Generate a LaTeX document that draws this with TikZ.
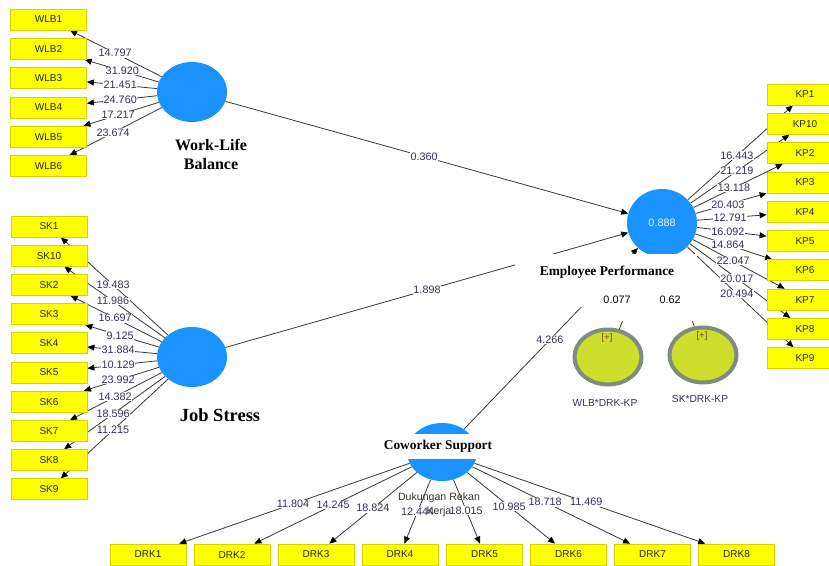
\documentclass[tikz,border=0pt]{standalone}
\usepackage{fontspec}
\setmainfont{Liberation Serif}
\setsansfont{Liberation Sans}
\usetikzlibrary{shapes.geometric,arrows.meta,calc}
\definecolor{plsblue}{RGB}{26,146,255}
\definecolor{indfill}{RGB}{255,255,0}
\definecolor{inddraw}{RGB}{212,212,0}
\definecolor{modfill}{RGB}{205,222,45}
\definecolor{moddraw}{RGB}{128,140,124}
\definecolor{linecol}{RGB}{55,55,55}
\definecolor{coefcol}{RGB}{50,50,85}
\definecolor{pluscol}{RGB}{110,75,30}
\pgfdeclarelayer{bg}
\pgfsetlayers{bg,main}
\tikzset{
  lv/.style={ellipse, fill=plsblue, inner sep=0pt, minimum width=70pt, minimum height=60pt},
  ind/.style={rectangle, fill=indfill, draw=inddraw, line width=0.8pt, minimum width=76pt,
    minimum height=21pt, inner sep=0pt, text=black!85, font=\sffamily\fontsize{10}{11}\selectfont},
  modlv/.style={ellipse, fill=modfill, draw=moddraw, line width=4pt, minimum width=67pt,
    minimum height=55pt, inner sep=0pt},
  conn/.style={draw=linecol, line width=0.8pt, -{Triangle[length=7pt,width=6pt,color=black]}},
  coef/.style={fill=white, inner sep=0.5pt, text=coefcol, font=\sffamily\fontsize{10.8}{12}\selectfont},
  plain/.style={inner sep=0pt, font=\sffamily\fontsize{10.8}{12}\selectfont},
  lvname/.style={font=\rmfamily\bfseries, align=center, inner sep=0pt},
}
\begin{document}
\begin{tikzpicture}[x=1pt,y=-1pt]
\useasboundingbox (0,0) rectangle (829,565);

% latent variables
\node[lv] (WLB) at (192,92) {};
\node[lv] (JS) at (192,357) {};
\node[lv, minimum height=68pt, text=white!90!plsblue, font=\sffamily\fontsize{10.8}{12}\selectfont] (EP) at (662,223) {0.888};
\node[lv, minimum height=58pt] (CS) at (442,452) {};
\node[modlv] (M1) at (608,357) {};
\node[modlv] (M2) at (703,355) {};

% indicators
\foreach \n/\y in {WLB1/19.5,WLB2/48.8,WLB3/78.1,WLB4/107.4,WLB5/136.7,WLB6/166}
  \node[ind] (\n) at (48.5,\y) {\n};
\foreach \n/\y in {SK1/226.5,SK10/255.7,SK2/284.9,SK3/314.1,SK4/343.3,SK5/372.5,SK6/401.7,SK7/430.9,SK8/460.1,SK9/489.3}
  \node[ind] (\n) at (49,\y) {\n};
\foreach \n/\y in {KP1/94.5,KP10/123.8,KP2/153.1,KP3/182.4,KP4/211.7,KP5/241,KP6/270.3,KP7/299.6,KP8/328.9,KP9/358.2}
  \node[ind] (\n) at (805,\y) {\n};
\foreach \n/\x in {DRK1/148,DRK2/232,DRK3/316,DRK4/400,DRK5/484.5,DRK6/568.5,DRK7/652.5,DRK8/736.5}
  \node[ind] (\n) at (\x,554.5) {\n};

% connectors
\begin{pgfonlayer}{bg}
\foreach \n in {WLB1,WLB2,WLB3,WLB4,WLB5,WLB6} \draw[conn] (WLB) -- (\n);
\foreach \n in {SK1,SK10,SK2,SK3,SK4,SK5,SK6,SK7,SK8,SK9} \draw[conn] (JS) -- (\n);
\foreach \n in {KP1,KP10,KP2,KP3,KP4,KP5,KP6,KP7,KP8,KP9} \draw[conn] (EP) -- (\n);
\foreach \n in {DRK1,DRK2,DRK3,DRK4,DRK5,DRK6,DRK7,DRK8} \draw[conn] (CS) -- (\n);
\draw[conn] (WLB) -- (EP);
\draw[conn] (JS) -- (EP);
\draw[conn] (CS) -- (EP);
\draw[conn] (M1) -- (EP);
\draw[conn] (M2) -- (EP);
\end{pgfonlayer}

% white patches behind pasted labels
\fill[white] (515,254) rectangle (697,307);
\fill[white] (600,307) rectangle (697,321);

% coefficients
\foreach \n/\v/\f in {WLB1/14.797/0.535,WLB2/31.920/0.486,WLB3/21.451/0.5,WLB4/24.760/0.5,WLB5/17.217/0.514,WLB6/23.674/0.549}
  \node[coef] (c\n) at ($(WLB)!\f!(\n)$) {\v};
\foreach \n/\v/\f in {SK1/19.483/0.552,SK10/11.986/0.552,SK2/16.697/0.538,SK3/9.125/0.503,SK4/31.884/0.517,SK5/10.129/0.517,SK6/23.992/0.517,SK7/14.382/0.538,SK8/18.596/0.552,SK9/11.215/0.552}
  \node[coef] (c\n) at ($(JS)!\f!(\n)$) {\v};
\foreach \n/\v/\f in {KP1/16.443/0.524,KP10/21.219/0.524,KP2/13.118/0.503,KP3/20.403/0.46,KP4/12.791/0.476,KP5/16.092/0.46,KP6/14.864/0.46,KP7/22.047/0.497,KP8/20.017/0.524,KP9/20.494/0.524}
  \node[coef] (c\n) at ($(EP)!\f!(\n)$) {\v};
\foreach \n/\v/\f in {DRK1/11.804/0.507,DRK2/14.245/0.518,DRK3/18.824/0.548,DRK4/12.444/0.58,DRK5/18.015/0.57,DRK6/10.985/0.53,DRK7/18.718/0.49,DRK8/11.469/0.49}
  \node[coef] (c\n) at ($(CS)!\f!(\n)$) {\v};
\node[coef] (cWLBEP) at ($(WLB)!0.494!(EP)$) {0.360};
\node[coef] (cJSEP) at ($(JS)!0.5!(EP)$) {1.898};
\node[coef] (cCSEP) at ($(CS)!0.49!(EP)$) {4.266};

% moderator texts
\node[plain, text=black] (v1) at (617,300) {0.077};
\node[plain, text=black] (v2) at (670,300) {0.62};
\node[inner sep=0pt, text=pluscol, font=\sffamily\fontsize{9.5}{10}\selectfont] (p1) at (607,338) {[+]};
\node[inner sep=0pt, text=pluscol, font=\sffamily\fontsize{9.5}{10}\selectfont] (p2) at (702,336) {[+]};
\node[plain, text=coefcol, font=\sffamily\fontsize{10.2}{12}\selectfont] (m1lab) at (605,403) {WLB*DRK-KP};
\node[plain, text=coefcol, font=\sffamily\fontsize{10.2}{12}\selectfont] (m2lab) at (700,399) {SK*DRK-KP};

% latent variable names
\node[lvname, font=\rmfamily\bfseries\fontsize{16}{19}\selectfont] (wlbname) at (211,154.5) {Work-Life\\Balance};
\node[lvname, font=\rmfamily\bfseries\fontsize{18.5}{21}\selectfont] (jsname) at (220,415) {Job Stress};
\node[lvname, font=\rmfamily\bfseries\fontsize{13.4}{15}\selectfont] (epname) at (607,272) {Employee Performance};
\node[lvname, fill=white, inner xsep=3pt, minimum height=25pt, font=\rmfamily\bfseries\fontsize{13.4}{15}\selectfont] (csname) at (438,446) {Coworker Support};
\node[inner sep=0pt, align=center, text=black!80, font=\sffamily\fontsize{10.6}{14}\selectfont] (dukname) at (439,505) {Dukungan Rekan\\Kerja};
\end{tikzpicture}
\end{document}
